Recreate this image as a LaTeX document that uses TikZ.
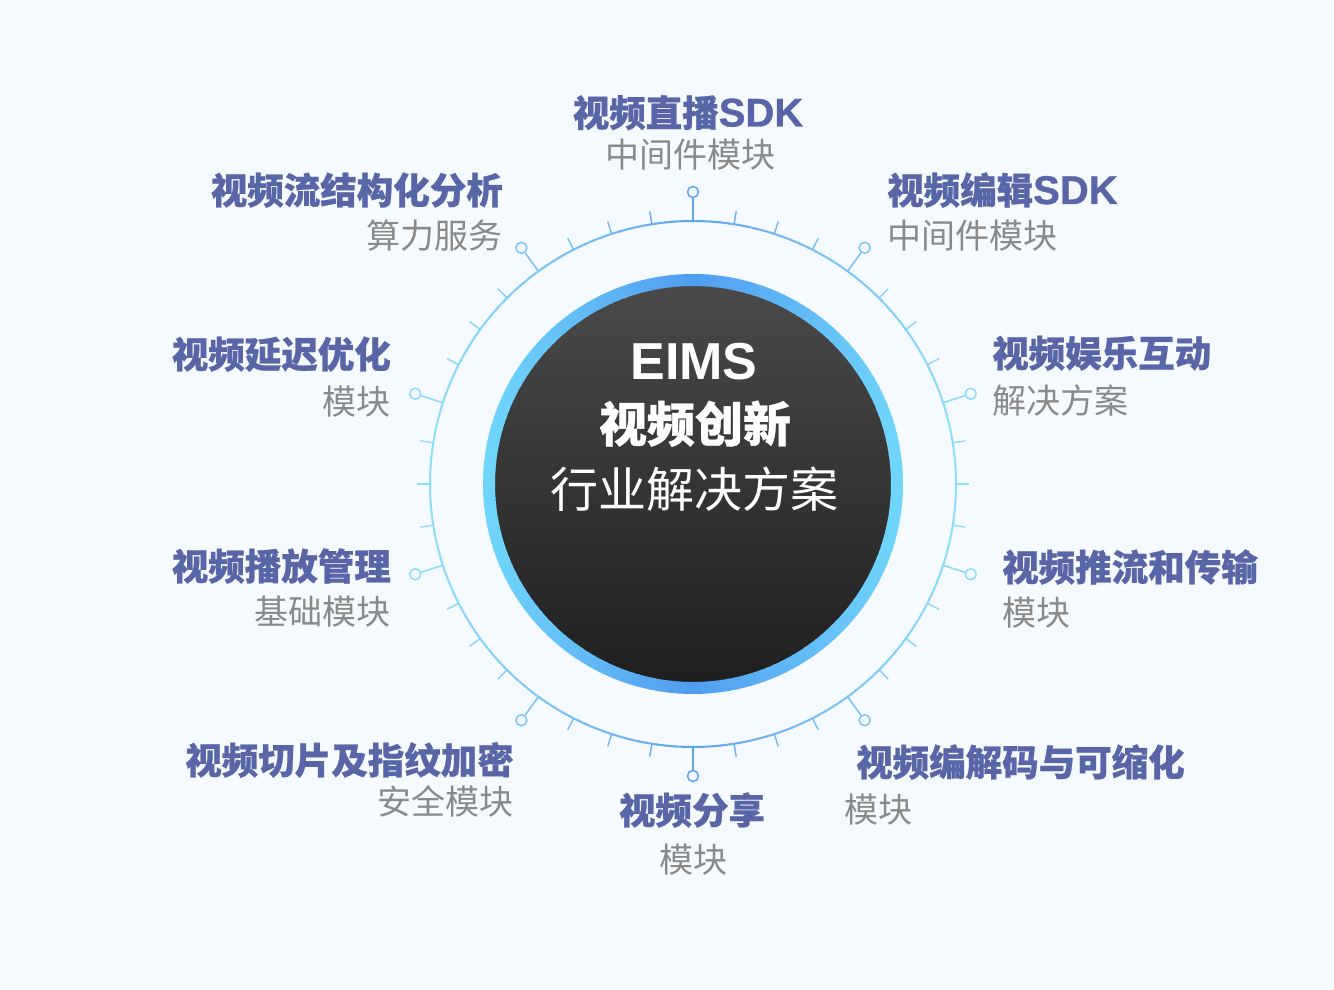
\documentclass[tikz,border=0pt]{standalone}
\usepackage{fontspec}
\setmainfont{Noto Sans CJK SC}[BoldFeatures={FakeBold=0.7}]
\newfontfamily\latfont{Liberation Sans}
\newfontfamily\sdkfont{Liberation Sans}[UprightFont={* Bold}, UprightFeatures={FakeBold=0.9}]
\definecolor{bgc}{HTML}{F5FAFE}
\definecolor{titlec}{HTML}{5866A8}
\definecolor{subc}{HTML}{8A8A8A}
\definecolor{ringblue}{HTML}{5FA4F0}
\definecolor{ringcyan}{HTML}{8FDFFB}
\definecolor{bordblue}{HTML}{519CF1}
\definecolor{bordcyan}{HTML}{70D6FB}
\definecolor{dtop}{HTML}{4A4A4A}
\definecolor{dbot}{HTML}{1F1F1F}
\newcommand{\sdkword}{{\sdkfont\fontsize{40}{44}\selectfont SDK}}
\tikzset{
  titlelbl/.style={font=\bfseries\fontsize{36.5}{40}\selectfont, text=titlec, inner sep=0pt},
  sublbl/.style={font=\fontsize{34}{38}\selectfont, text=subc, inner sep=0pt},
  markernode/.style={circle, minimum size=11pt, inner sep=0pt, line width=1.5pt, fill=bgc},
  centertxt/.style={text=white, inner sep=0pt}
}
\begin{document}
\begin{tikzpicture}[x=1pt,y=1pt]
\useasboundingbox (0,0) rectangle (1334,990);
\fill[bgc] (0,0) rectangle (1334,990);

\begin{scope}[shift={(693,506)}]
  % outer ring
  \foreach \a in {0,2,...,358} {
    \pgfmathtruncatemacro\m{100*abs(cos(\a+1))}
    \draw[line width=2pt, draw=ringcyan!\m!ringblue] (\a:263pt) arc[start angle=\a, end angle=\a+2.3, radius=263pt];
  }
  % ticks and markers
  \foreach \k in {0,...,39} {
    \pgfmathsetmacro\a{9*\k}
    \pgfmathtruncatemacro\m{100*abs(cos(\a))}
    \pgfmathtruncatemacro\isM{mod(\k,4)==2 ? 1 : 0}
    \ifnum\isM=1
      \coordinate (r\k) at (\a:263pt);
      \node[markernode, draw=ringcyan!\m!ringblue] (m\k) at (\a:292pt) {};
      \draw[line width=1.6pt, draw=ringcyan!\m!ringblue] (r\k) -- (m\k);
    \else
      \coordinate (t\k) at (\a:263pt);
      \coordinate (u\k) at (\a:276pt);
      \draw[line width=1.4pt, draw=ringcyan!\m!ringblue] (t\k) -- (u\k);
    \fi
  }
  % dark centre disc
  \fill[top color=dtop, bottom color=dbot] (0,0) circle (199pt);
  \foreach \a in {0,2,...,358} {
    \pgfmathtruncatemacro\m{100*abs(cos(\a+1))}
    \draw[line width=12pt, draw=bordcyan!\m!bordblue] (\a:204pt) arc[start angle=\a, end angle=\a+2.4, radius=204pt];
  }
\end{scope}

% centre text
\node[centertxt, font=\latfont\bfseries\fontsize{52}{56}\selectfont, anchor=base] (eims) at (694,610) {EIMS};
\node[centertxt, font=\bfseries\fontsize{48}{52}\selectfont, anchor=base] (cx) at (695,548) {视频创新};
\node[centertxt, font=\fontsize{48}{52}\selectfont, anchor=base] (hy) at (694,482) {行业解决方案};

% labels
\node[titlelbl, anchor=base] (l1t) at (688,863.5) {视频直播\sdkword};
\node[sublbl, anchor=base] (l1s) at (690,822) {中间件模块};

\node[titlelbl, anchor=base east] (l2t) at (503,786) {视频流结构化分析};
\node[sublbl, anchor=base east] (l2s) at (503,741) {算力服务};

\node[titlelbl, anchor=base west] (l3t) at (887,786) {视频编辑\sdkword};
\node[sublbl, anchor=base west] (l3s) at (887,741) {中间件模块};

\node[titlelbl, anchor=base east] (l4t) at (391,622) {视频延迟优化};
\node[sublbl, anchor=base east] (l4s) at (391,575) {模块};

\node[titlelbl, anchor=base west] (l5t) at (992,623) {视频娱乐互动};
\node[sublbl, anchor=base west] (l5s) at (992,576) {解决方案};

\node[titlelbl, anchor=base east] (l6t) at (391,410) {视频播放管理};
\node[sublbl, anchor=base east] (l6s) at (391,365) {基础模块};

\node[titlelbl, anchor=base west] (l7t) at (1002,409) {视频推流和传输};
\node[sublbl, anchor=base west] (l7s) at (1002,364) {模块};

\node[titlelbl, anchor=base east] (l8t) at (514,216) {视频切片及指纹加密};
\node[sublbl, anchor=base east] (l8s) at (514,175) {安全模块};

\node[titlelbl, anchor=base] (l9t) at (692,166) {视频分享};
\node[sublbl, anchor=base] (l9s) at (693,117) {模块};

\node[titlelbl, anchor=base west] (l10t) at (856,214) {视频编解码与可缩化};
\node[sublbl, anchor=base west] (l10s) at (844,167) {模块};
\end{tikzpicture}
\end{document}
